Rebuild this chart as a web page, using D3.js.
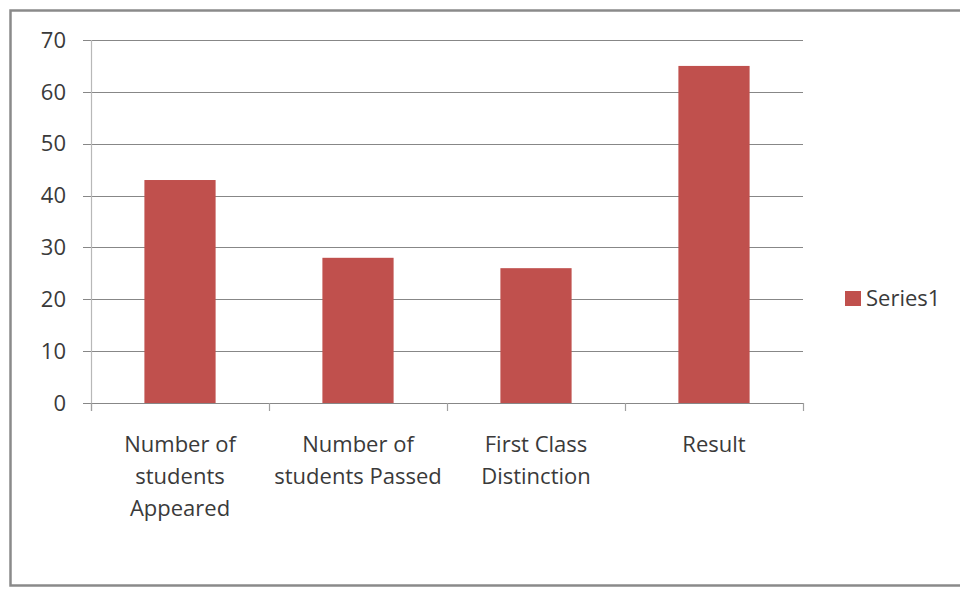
<!DOCTYPE html>
<html>
<head>
<meta charset="utf-8">
<script src="https://cdn.jsdelivr.net/npm/d3@7"></script>
<style>
  html, body { margin: 0; padding: 0; background: #fff; }
  svg { display: block; }
  text { font-family: "Open Sans", "Noto Sans", sans-serif; fill: #3a3a3a; }
</style>
</head>
<body>
<svg id="chart" width="960" height="589"></svg>
<script>
const categories = ["Number of students Appeared", "Number of students Passed", "First Class Distinction", "Result"];
const categoryLines = [["Number of", "students", "Appeared"], ["Number of", "students Passed"], ["First Class", "Distinction"], ["Result"]];
const series1 = [43, 28, 26, 65];
const yTicks = [0, 10, 20, 30, 40, 50, 60, 70];
const seriesName = "Series1";

(function () {
const svg = d3.select("#chart");
const barColor = "#C0504D";
const gridColor = "#878787";
const fs = 22;

// outer frame
svg.append("rect")
  .attr("x", 10.5).attr("y", 10.5)
  .attr("width", 960).attr("height", 575)
  .attr("fill", "#fff")
  .attr("stroke", "#8a8a8a")
  .attr("stroke-width", 2.5);

const pLeft = 91, pRight = 803, pTop = 40, pBottom = 403;

const x = d3.scaleBand().domain(categories).range([pLeft, pRight]).paddingInner(0.6).paddingOuter(0.3);
const y = d3.scaleLinear().domain([0, 70]).range([pBottom, pTop]);

// gridlines
svg.append("g").selectAll("line").data(yTicks).join("line")
  .attr("x1", pLeft - 8).attr("x2", pRight)
  .attr("y1", d => Math.round(y(d)) + 0.5).attr("y2", d => Math.round(y(d)) + 0.5)
  .attr("stroke", gridColor).attr("stroke-width", 1);

// y axis line
svg.append("line")
  .attr("x1", pLeft + 0.5).attr("x2", pLeft + 0.5)
  .attr("y1", pTop).attr("y2", pBottom + 8)
  .attr("stroke", "#b8b8b8").attr("stroke-width", 1.2);

// y tick labels
svg.append("g").selectAll("text").data(yTicks).join("text")
  .attr("x", 66).attr("y", d => y(d))
  .attr("dy", "0.35em")
  .attr("text-anchor", "end")
  .attr("font-size", fs)
  .text(d => d);

// bars
svg.append("g").selectAll("rect").data(series1).join("rect")
  .attr("x", (d, i) => x(categories[i]))
  .attr("width", x.bandwidth())
  .attr("y", d => y(d))
  .attr("height", d => y(0) - y(d))
  .attr("fill", barColor);

// x axis line
svg.append("line")
  .attr("x1", pLeft).attr("x2", pRight + 1)
  .attr("y1", pBottom + 0.5).attr("y2", pBottom + 0.5)
  .attr("stroke", gridColor).attr("stroke-width", 1.2);

// x ticks at band boundaries
const boundaries = d3.range(categories.length + 1).map(i => pLeft + i * (pRight - pLeft) / categories.length);
svg.append("g").selectAll("line").data(boundaries).join("line")
  .attr("x1", d => Math.round(d) + 0.5).attr("x2", d => Math.round(d) + 0.5)
  .attr("y1", pBottom).attr("y2", pBottom + 8)
  .attr("stroke", "#a0a0a0").attr("stroke-width", 1.2);

// category labels
const lab = svg.append("g").selectAll("text").data(categories).join("text")
  .attr("text-anchor", "middle")
  .attr("font-size", fs)
  .attr("transform", d => `translate(${x(d) + x.bandwidth() / 2},452)`);
lab.selectAll("tspan").data((d, i) => categoryLines[i]).join("tspan")
  .attr("x", 0).attr("y", (d, j) => j * 32)
  .text(d => d);

// legend
svg.append("rect")
  .attr("x", 845).attr("y", 291).attr("width", 16).attr("height", 15)
  .attr("fill", barColor);
svg.append("text")
  .attr("x", 866).attr("y", 306)
  .attr("font-size", fs)
  .text(seriesName);
})();
</script>
</body>
</html>
